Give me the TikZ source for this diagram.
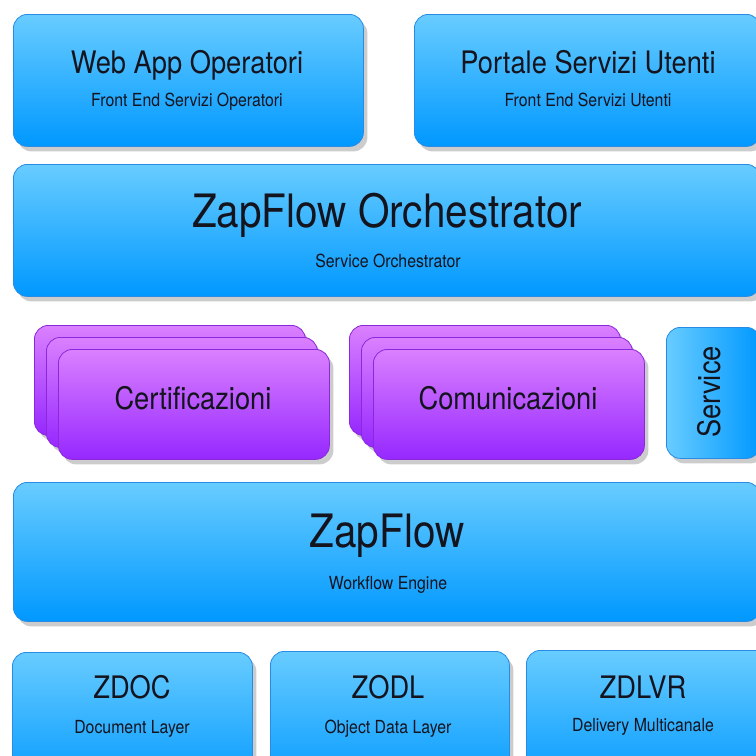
\documentclass[tikz,border=0pt]{standalone}
\usepackage{fontspec}
\setmainfont{TeX Gyre Heros}[FakeStretch=0.88]
\usetikzlibrary{shadows}

\definecolor{bluetop}{RGB}{104,204,255}
\definecolor{bluebot}{RGB}{0,152,255}
\definecolor{blueline}{RGB}{40,140,230}
\definecolor{violtop}{RGB}{218,128,255}
\definecolor{violbot}{RGB}{150,40,255}
\definecolor{violline}{RGB}{140,40,220}
\definecolor{ink}{RGB}{20,20,30}

\tikzset{
  layer/.style={rectangle, rounded corners=14pt, draw=blueline, line width=0.8pt,
    top color=bluetop, bottom color=bluebot, anchor=north west, inner sep=0pt,
    drop shadow={shadow xshift=4pt, shadow yshift=-5pt, opacity=0.4}},
  card/.style={layer, draw=violline, top color=violtop, bottom color=violbot,
    minimum width=271pt, minimum height=110pt},
  sidebox/.style={layer, left color=bluetop, right color=bluebot},
  bigtitle/.style={anchor=base, text=ink, font=\fontsize{46}{50}\selectfont},
  title/.style={anchor=base, text=ink, font=\fontsize{31}{36}\selectfont},
  subtitle/.style={anchor=base, text=ink, font=\fontsize{18}{21}\selectfont},
}

\begin{document}
\begin{tikzpicture}[x=1pt, y=-1pt]
\useasboundingbox (0,0) rectangle (756,756);
\fill[white] (0,0) rectangle (756,756);
\clip (0,0) rectangle (756,756);
% front ends
\node[layer, minimum width=350pt, minimum height=132pt] (web) at (13,14) {};
\node[title] (webT) at (187,73) {Web App Operatori};
\node[subtitle] (webS) at (187,106) {Front End Servizi Operatori};
\node[layer, minimum width=346pt, minimum height=132pt] (portale) at (414,14) {};
\node[title] (portT) at (588,73) {Portale Servizi Utenti};
\node[subtitle] (portS) at (588,106) {Front End Servizi Utenti};
% orchestrator
\node[layer, minimum width=747pt, minimum height=132pt] (orch) at (13,164) {};
\node[bigtitle] (orchT) at (387,227) {ZapFlow Orchestrator};
\node[subtitle] (orchS) at (388,267) {Service Orchestrator};
% services
\node[card] (certA) at (34,325) {};
\node[card] (certB) at (46,337) {};
\node[card] (certC) at (58,349) {};
\node[title] (certT) at (193,409) {Certificazioni};
\node[card] (comA) at (349,325) {};
\node[card] (comB) at (361,337) {};
\node[card] (comC) at (373,349) {};
\node[title] (comT) at (508,409) {Comunicazioni};
\node[sidebox, minimum width=94pt, minimum height=131pt] (service) at (666,327) {};
\node[title, rotate=90] (servT) at (720,392) {Service};
% engine
\node[layer, minimum width=747pt, minimum height=139pt] (zapflow) at (13,482) {};
\node[bigtitle] (zapT) at (387,547) {ZapFlow};
\node[subtitle] (zapS) at (388,589) {Workflow Engine};
% data layers
\node[layer, minimum width=240pt, minimum height=140pt] (zdoc) at (12,652) {};
\node[title] (zdocT) at (132,698) {ZDOC};
\node[subtitle] (zdocS) at (132,733) {Document Layer};
\node[layer, minimum width=239pt, minimum height=140pt] (zodl) at (270,651) {};
\node[title] (zodlT) at (388,698) {ZODL};
\node[subtitle] (zodlS) at (388,733) {Object Data Layer};
\node[layer, minimum width=250pt, minimum height=140pt] (zdlvr) at (526,650) {};
\node[title] (zdlvrT) at (643,698) {ZDLVR};
\node[subtitle] (zdlvrS) at (643,731) {Delivery Multicanale};
\end{tikzpicture}
\end{document}
